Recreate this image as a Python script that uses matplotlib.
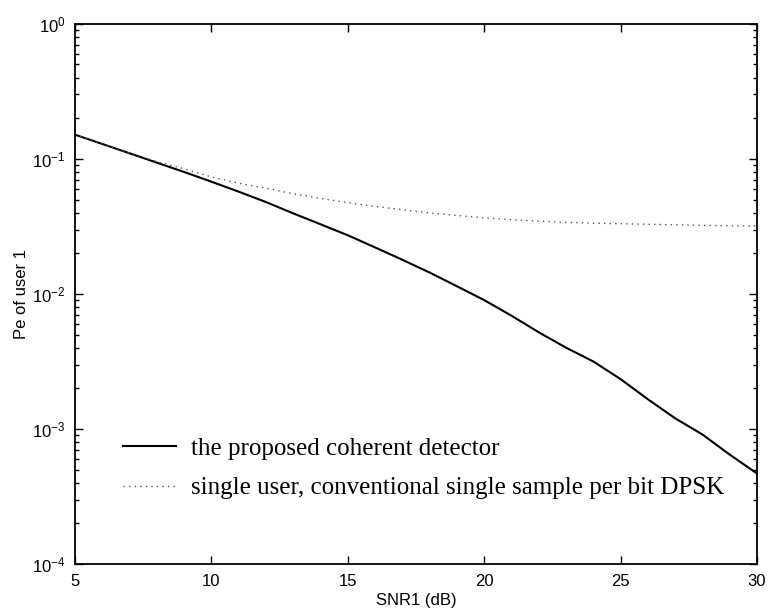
import matplotlib
matplotlib.use("Agg")
import matplotlib.pyplot as plt
import matplotlib.ticker as ticker

# values
snr_db = [5, 6, 7, 8, 9, 10, 11, 12, 13, 14, 15, 16, 17, 18, 19, 20,
          21, 22, 23, 24, 25, 26, 27, 28, 29, 30]
pe_coherent = [0.151, 0.129, 0.110, 0.0938, 0.080, 0.0678, 0.0572, 0.0479,
               0.0395, 0.0328, 0.0272, 0.0221, 0.0179, 0.0144, 0.0114, 0.0090,
               0.0069, 0.0052, 0.0040, 0.00316, 0.00234, 0.00166, 0.0012,
               0.00091, 0.000646, 0.000468]
pe_dpsk = [0.151, 0.129, 0.110, 0.0955, 0.0845, 0.0735, 0.0660, 0.0607,
           0.0552, 0.0510, 0.0474, 0.0445, 0.0420, 0.0398, 0.0381, 0.0366,
           0.0355, 0.0346, 0.0339, 0.0334, 0.0331, 0.0328, 0.0325, 0.0322,
           0.0320, 0.0318]
labels = ["the proposed coherent detector",
          "single user, conventional single sample per bit DPSK"]

plt.rcParams["font.family"] = ["Liberation Sans", "DejaVu Sans"]
plt.rcParams["mathtext.default"] = "regular"

fig = plt.figure(figsize=(7.7, 6.13), dpi=100)
ax = fig.add_axes([0.0974, 0.0799, 0.8857, 0.8812])

ax.plot(snr_db, pe_coherent, color="black", lw=1.5, label=labels[0])
ax.plot(snr_db, pe_dpsk, color="#555555", lw=1.0, ls=(0, (1, 3)),
        label=labels[1])

ax.set_yscale("log")
ax.set_xlim(5, 30)
ax.set_ylim(1e-4, 1)
ax.xaxis.set_major_locator(ticker.MultipleLocator(5))
ax.yaxis.set_major_locator(ticker.LogLocator(base=10, numticks=10))
ax.yaxis.set_minor_locator(ticker.LogLocator(base=10, subs=range(2, 10), numticks=20))
ax.yaxis.set_minor_formatter(ticker.NullFormatter())

ax.tick_params(which="both", direction="in", top=True, right=True,
               labelsize=12, width=1.0)
ax.tick_params(which="major", length=6, pad=7)
ax.tick_params(which="minor", length=3)
for sp in ax.spines.values():
    sp.set_linewidth(1.3)

ax.set_xlabel("SNR1 (dB)", fontsize=12, labelpad=3)
ax.set_ylabel("Pe of user 1", fontsize=12, labelpad=2)

ax.legend(loc="lower left", bbox_to_anchor=(0.038, 0.078), frameon=False,
          prop={"family": "Liberation Serif", "size": 18},
          handlelength=2.1, handletextpad=0.6, labelspacing=0.68)

fig.savefig("out.png", dpi=100)
